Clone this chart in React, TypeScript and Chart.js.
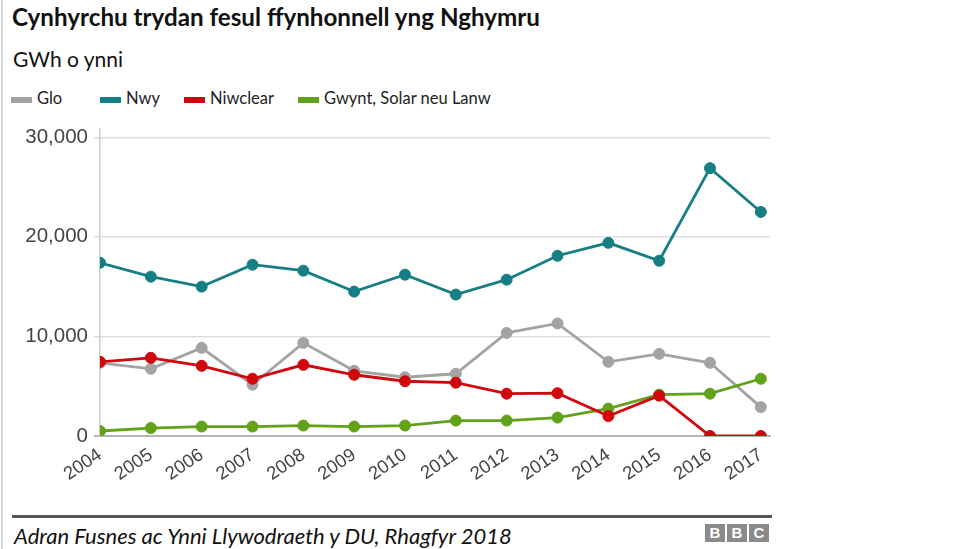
import React, { useEffect, useRef } from "react";
import { Chart, registerables } from "chart.js";

Chart.register(...registerables);

const years = [2004, 2005, 2006, 2007, 2008, 2009, 2010, 2011, 2012, 2013, 2014, 2015, 2016, 2017];
const glo = [7350, 6750, 8850, 5150, 9350, 6550, 5900, 6250, 10350, 11300, 7450, 8250, 7350, 2900];
const nwy = [17400, 16000, 15000, 17200, 16600, 14500, 16200, 14200, 15700, 18100, 19400, 17600, 26900, 22500];
const niwclear = [7450, 7850, 7050, 5750, 7150, 6150, 5500, 5350, 4250, 4300, 2000, 4050, 0, 0];
const gwynt = [500, 800, 950, 950, 1050, 950, 1050, 1550, 1550, 1850, 2750, 4150, 4250, 5750];
const yTicks = [0, 10000, 20000, 30000];

const seriesNames = ["Glo", "Nwy", "Niwclear", "Gwynt, Solar neu Lanw"];
const seriesColors = ["#a3a3a3", "#167f85", "#d0080e", "#62a11a"];
const legendX = [11, 100, 184, 298];

const title = "Cynhyrchu trydan fesul ffynhonnell yng Nghymru";
const subtitle = "GWh o ynni";
const source = "Adran Fusnes ac Ynni Llywodraeth y DU, Rhagfyr 2018";

export default function App() {
  const ref = useRef<HTMLCanvasElement | null>(null);

  useEffect(() => {
    if (!ref.current) return;
    const series = [glo, nwy, niwclear, gwynt];
    const orders = [2, 3, 0, 1];
    const chart = new Chart(ref.current, {
      type: "line",
      data: {
        datasets: series.map((vals, i) => ({
          label: seriesNames[i],
          data: vals.map((v, j) => ({ x: years[j], y: v })),
          borderColor: seriesColors[i],
          backgroundColor: seriesColors[i],
          pointBackgroundColor: seriesColors[i],
          pointBorderColor: seriesColors[i],
          borderWidth: 2.8,
          pointRadius: 5.5,
          pointBorderWidth: 1,
          tension: 0,
          fill: false,
          order: orders[i],
        })),
      },
      options: {
        responsive: false,
        animation: false,
        layout: { padding: { top: 9, right: 20, left: 0, bottom: 0 } },
        plugins: {
          legend: { display: false },
          tooltip: { enabled: false },
          title: { display: false },
        },
        scales: {
          x: {
            type: "linear",
            min: years[0],
            max: years[years.length - 1] + 0.18,
            grid: { display: false, drawTicks: false },
            border: { display: true, color: "#b5b5b5", width: 2 },
            afterFit: (s: any) => {
              s.height = 54;
            },
            ticks: {
              stepSize: 1,
              maxTicksLimit: 30,
              includeBounds: false,
              autoSkip: false,
              minRotation: 34,
              maxRotation: 34,
              padding: 8,
              color: "#444444",
              font: { family: "'Liberation Sans', Arial, sans-serif", size: 18.5 },
              callback: (v: any) => String(v),
            },
          },
          y: {
            type: "linear",
            min: 0,
            max: 30900,
            afterFit: (s: any) => {
              s.width = 100;
            },
            afterBuildTicks: (s: any) => {
              s.ticks = yTicks.map((v) => ({ value: v }));
            },
            grid: {
              drawTicks: true,
              tickLength: 6,
              color: (ctx: any) => (ctx.tick && ctx.tick.value === 0 ? "#b5b5b5" : "#dddddd"),
              lineWidth: (ctx: any) => (ctx.tick && ctx.tick.value === 0 ? 2 : 1.5),
            },
            border: { display: true, color: "#cccccc", width: 1.5 },
            ticks: {
              padding: 6,
              color: "#444444",
              font: { family: "'Liberation Sans', Arial, sans-serif", size: 20.5 },
              callback: (v: any) => Number(v).toLocaleString("en-US"),
            },
          },
        },
      },
    });
    return () => chart.destroy();
  }, []);

  const lato = "Lato, 'Open Sans', sans-serif";

  return (
    <div
      style={{
        position: "fixed",
        left: 0,
        top: 0,
        width: 976,
        height: 549,
        background: "#ffffff",
        overflow: "hidden",
        fontFamily: lato,
      }}
    >
      <div style={{ position: "absolute", left: 1, top: 0, width: 2, height: 549, background: "#d4d8e0" }} />
      <div
        style={{
          position: "absolute",
          left: 12,
          top: 5,
          fontSize: 24.2,
          lineHeight: "24px",
          fontWeight: 700,
          color: "#111",
          whiteSpace: "nowrap",
        }}
      >
        {title}
      </div>
      <div
        style={{
          position: "absolute",
          left: 13,
          top: 48,
          fontSize: 21,
          lineHeight: "21px",
          color: "#111",
          whiteSpace: "nowrap",
        }}
      >
        {subtitle}
      </div>
      {seriesNames.map((n, i) => (
        <div key={n}>
          <div
            style={{
              position: "absolute",
              left: legendX[i],
              top: 97,
              width: 21,
              height: 6,
              background: seriesColors[i],
            }}
          />
          <div
            style={{
              position: "absolute",
              left: legendX[i] + 26,
              top: 90,
              fontSize: 16.5,
              lineHeight: "17px",
              color: "#222",
              whiteSpace: "nowrap",
            }}
          >
            {n}
          </div>
        </div>
      ))}
      <canvas
        ref={ref}
        width={790}
        height={380}
        style={{ position: "absolute", left: 0, top: 110, width: 790, height: 380 }}
      />
      <div style={{ position: "absolute", left: 12, top: 515, width: 760, height: 3, background: "#555" }} />
      <div
        style={{
          position: "absolute",
          left: 14,
          top: 525,
          fontSize: 22,
          lineHeight: "22px",
          fontStyle: "italic",
          color: "#111",
          whiteSpace: "nowrap",
        }}
      >
        {source}
      </div>
      {["B", "B", "C"].map((l, i) => (
        <div
          key={i}
          style={{
            position: "absolute",
            left: 705 + i * 22,
            top: 524,
            width: 20,
            height: 18,
            background: "#8a8a8a",
            color: "#fff",
            fontFamily: "'Liberation Sans', Arial, sans-serif",
            fontWeight: 700,
            fontSize: 15,
            lineHeight: "18px",
            textAlign: "center",
          }}
        >
          {l}
        </div>
      ))}
    </div>
  );
}
